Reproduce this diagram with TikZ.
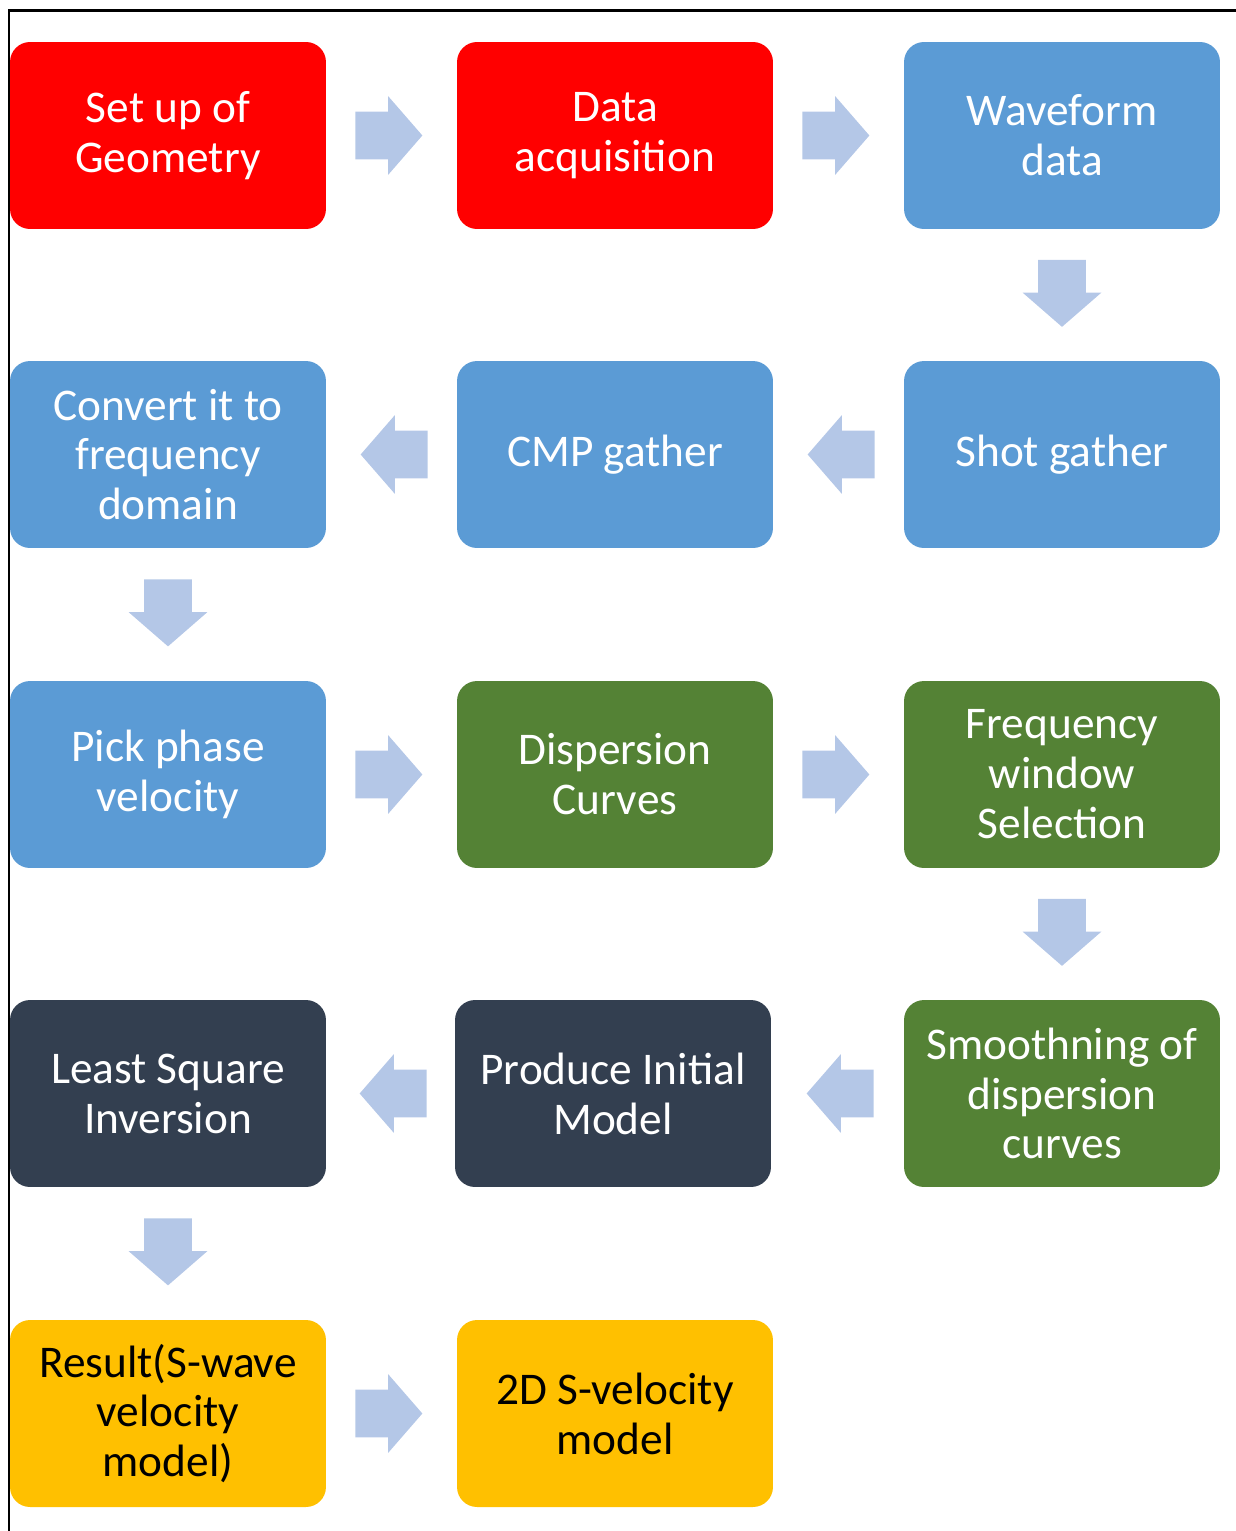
\documentclass[tikz,border=0pt]{standalone}
\usepackage{fontspec}
\setmainfont{Carlito}
\usetikzlibrary{shapes.arrows,positioning}

\definecolor{stepred}{HTML}{FF0000}
\definecolor{stepblue}{HTML}{5B9BD5}
\definecolor{stepgreen}{HTML}{548235}
\definecolor{stepdark}{HTML}{333F50}
\definecolor{stepgold}{HTML}{FFC000}
\definecolor{arrowblue}{HTML}{B4C7E7}

\begin{document}
\begin{tikzpicture}[
  x=0.02cm, y=-0.02cm,
  font=\fontsize{25.8}{28.4}\selectfont,
  stepbox/.style={rectangle, rounded corners=0.4cm, minimum width=6.32cm,
                  minimum height=3.74cm, align=center, inner sep=2pt, text=white},
  redbox/.style={stepbox, fill=stepred},
  bluebox/.style={stepbox, fill=stepblue},
  greenbox/.style={stepbox, fill=stepgreen},
  darkbox/.style={stepbox, fill=stepdark},
  goldbox/.style={stepbox, fill=stepgold, text=black},
  blockarr/.style={single arrow, fill=arrowblue, inner sep=0pt,
                   text width=0.6cm, text height=0.47cm, text depth=0.47cm,
                   minimum height=1.34cm, minimum width=1.56cm,
                   single arrow head extend=0.31cm, single arrow tip angle=98},
  rarr/.style={blockarr, xshift=-0.26cm},
  larr/.style={blockarr, rotate=180, xshift=-0.26cm},
  darr/.style={blockarr, rotate=270, xshift=-0.24cm},
]
\useasboundingbox (0,0) rectangle (1236,1531);

% --- frame ---
\draw[line width=0.06cm] (9,1531) -- (9,10.5) -- (1236,10.5);

% --- row 1 ---
\node[redbox]  (geom) at (168,135.5)  {Set up of\\Geometry};
\node[redbox]  (acq)  at (615,135.5)  {Data\\acquisition};
\node[bluebox] (wave) at (1062,135.5) {Waveform\\data};

% --- row 2 ---
\node[bluebox] (shot) at (1062,454.5) {Shot gather};
\node[bluebox] (cmp)  at (615,454.5)  {CMP gather};
\node[bluebox] (freq) at (168,454.5)  {Convert it to\\frequency\\domain};

% --- row 3 ---
\node[bluebox]  (pick) at (168,774.5)  {Pick phase\\velocity};
\node[greenbox] (disp) at (615,774.5)  {Dispersion\\Curves};
\node[greenbox] (fwin) at (1062,774.5) {Frequency\\window\\Selection};

% --- row 4 ---
\node[greenbox] (smooth) at (1062,1093.5) {Smoothning of\\dispersion\\curves};
\node[darkbox]  (init)   at (613,1093.5)  {Produce Initial\\Model};
\node[darkbox]  (lsq)    at (168,1093.5)  {Least Square\\Inversion};

% --- row 5 ---
\node[goldbox] (result)  at (168,1413.5) {Result(S-wave\\velocity\\model)};
\node[goldbox] (model2d) at (615,1413.5) {2D S-velocity\\model};

% --- block arrows ---
\path (geom) -- node[rarr] {} (acq);
\path (acq) -- node[rarr] {} (wave);
\path (wave) -- node[darr] {} (shot);
\path (shot) -- node[larr] {} (cmp);
\path (cmp) -- node[larr] {} (freq);
\path (freq) -- node[darr] {} (pick);
\path (pick) -- node[rarr] {} (disp);
\path (disp) -- node[rarr] {} (fwin);
\path (fwin) -- node[darr] {} (smooth);
\path (smooth) -- node[larr] {} (init);
\path (init) -- node[larr] {} (lsq);
\path (lsq) -- node[darr] {} (result);
\path (result) -- node[rarr] {} (model2d);

\end{tikzpicture}
\end{document}
